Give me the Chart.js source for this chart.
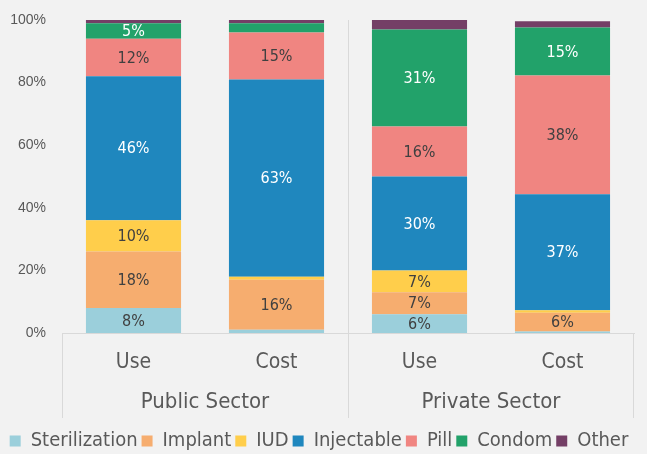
<!DOCTYPE html>
<html><head><meta charset="utf-8">
<script src="https://cdn.jsdelivr.net/npm/chart.js@4/dist/chart.umd.min.js"></script>
<style>html,body{margin:0;padding:0;background:#f2f2f2;}#wrap{width:647px;height:454px;}</style>
</head><body><div id="wrap"><canvas id="c" width="647" height="454"></canvas></div>
<script>
const categories = ['Use', 'Cost', 'Use', 'Cost'];
const groups = ['Public Sector', 'Private Sector'];
const yTicks = [0, 20, 40, 60, 80, 100];
const sterilization = [8, 1, 6, 0.5];
const implant = [18, 16, 7, 6];
const iud = [10, 1, 7, 0.8];
const injectable = [46, 63, 30, 37];
const pill = [12, 15, 16, 38];
const condom = [5, 3, 31, 15.3];
const other = [1, 1, 3, 2];

const FONT = "'DejaVu Sans Condensed','DejaVu Sans',sans-serif";
const TXT = '#595959';
const series = [
  ['Sterilization', sterilization, '#9bcfdb', '#404040'],
  ['Implant', implant, '#f6ad6f', '#404040'],
  ['IUD', iud, '#ffce4b', '#404040'],
  ['Injectable', injectable, '#1f87be', '#ffffff'],
  ['Pill', pill, '#f08581', '#404040'],
  ['Condom', condom, '#22a26a', '#ffffff'],
  ['Other', other, '#743f66', '#ffffff']
];

const labelPlugin = {
  id: 'barLabels',
  afterDatasetsDraw(chart) {
    const ctx = chart.ctx;
    ctx.save();
    ctx.font = '16px ' + FONT;
    ctx.textAlign = 'center';
    ctx.textBaseline = 'middle';
    chart.data.datasets.forEach((ds, i) => {
      const meta = chart.getDatasetMeta(i);
      meta.data.forEach((bar, j) => {
        const v = ds.data[j];
        if (v < 5) return;
        ctx.fillStyle = ds.labelColor;
        ctx.fillText(Math.round(v) + '%', bar.x, (bar.y + bar.base) / 2 + 1);
      });
    });
    ctx.restore();
  }
};

const dividerPlugin = {
  id: 'dividers',
  afterDraw(chart) {
    const x = chart.scales.x, x2 = chart.scales.x2;
    const ctx = chart.ctx;
    const mid = (x.getPixelForValue(1) + x.getPixelForValue(2)) / 2;
    const bottom = x2.top + 35;
    ctx.save();
    ctx.strokeStyle = '#d9d9d9';
    ctx.lineWidth = 1;
    ctx.beginPath();
    ctx.moveTo(Math.round(x.left) + 0.5, chart.chartArea.bottom);
    ctx.lineTo(Math.round(x.left) + 0.5, bottom);
    ctx.moveTo(Math.round(mid) + 0.5, chart.chartArea.top);
    ctx.lineTo(Math.round(mid) + 0.5, bottom);
    ctx.moveTo(Math.round(x.right) - 0.5, chart.chartArea.bottom);
    ctx.lineTo(Math.round(x.right) - 0.5, bottom);
    ctx.stroke();
    ctx.restore();
  }
};

new Chart(document.getElementById('c'), {
  type: 'bar',
  data: {
    labels: categories,
    datasets: series.map(s => ({
      label: s[0], data: s[1], backgroundColor: s[2], labelColor: s[3],
      borderWidth: 0, barPercentage: 0.665, categoryPercentage: 1
    }))
  },
  options: {
    responsive: false,
    animation: false,
    layout: { padding: { left: 4, right: 13, top: 20, bottom: -7 } },
    scales: {
      x: {
        stacked: true,
        grid: { display: false, drawTicks: false },
        border: { display: true, color: '#d9d9d9' },
        ticks: { color: TXT, font: { family: FONT, size: 21 }, padding: 17 },
        afterFit: s => { s.height = 50; }
      },
      x2: {
        type: 'category', labels: groups, position: 'bottom', offset: true,
        grid: { display: false, drawTicks: false }, border: { display: false },
        ticks: { color: TXT, font: { family: FONT, size: 22 }, padding: 6 },
        afterFit: s => { s.height = 44; }
      },
      y: {
        stacked: true, min: 0, max: 100,
        afterBuildTicks: s => { s.ticks = yTicks.map(v => ({ value: v })); },
        afterFit: s => { s.width = 58; s.paddingTop = 0; s.paddingBottom = 0; },
        grid: { display: false, drawTicks: false }, border: { display: false },
        ticks: { color: TXT, font: { family: "'Liberation Sans',Arial,sans-serif", size: 14 }, padding: 16, callback: v => v + '%' }
      }
    },
    plugins: {
      legend: {
        position: 'bottom',
        labels: { color: TXT, font: { family: FONT, size: 20 }, boxWidth: 11, boxHeight: 11, padding: 4 }
      },
      tooltip: { enabled: false }
    }
  },
  plugins: [labelPlugin, dividerPlugin]
});
</script></body></html>
